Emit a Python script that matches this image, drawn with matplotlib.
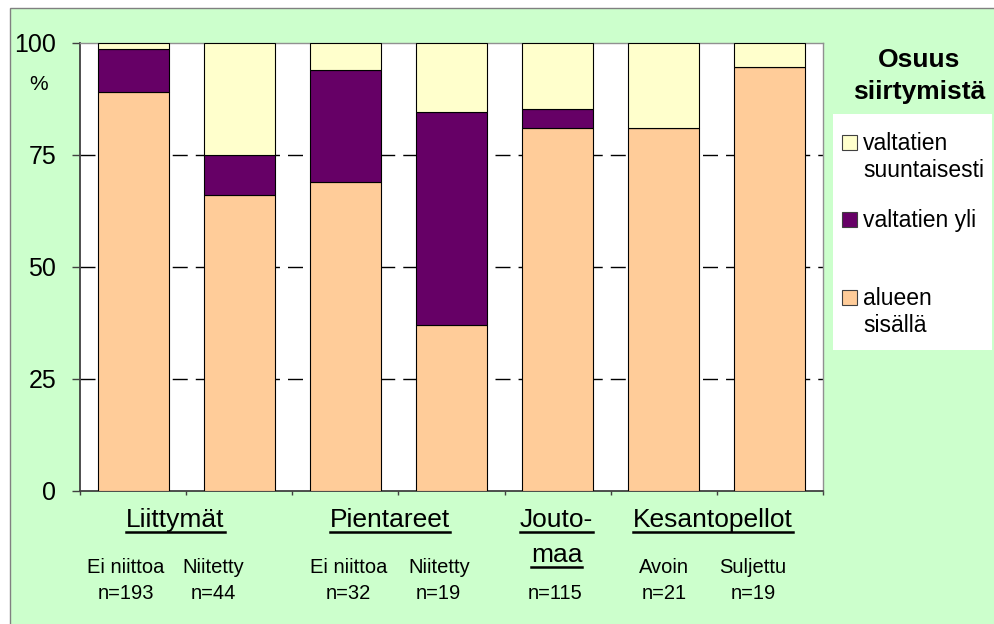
import matplotlib.pyplot as plt
from matplotlib.patches import Rectangle
from matplotlib.lines import Line2D
from matplotlib.transforms import blended_transform_factory

plt.rcParams['font.family'] = ['Liberation Sans', 'DejaVu Sans']

# shares of movements (%), one bar per site type
alueen_sisalla = [89.0, 66.0, 69.0, 37.0, 81.0, 81.0, 94.7]
valtatien_yli = [9.7, 9.0, 25.0, 47.5, 4.3, 0.0, 0.0]
valtatien_suuntaisesti = [1.3, 25.0, 6.0, 15.5, 14.7, 19.0, 5.3]

series_names = ['valtatien\nsuuntaisesti', 'valtatien yli', 'alueen\nsisällä']
colors = ['#FFFFCC', '#660066', '#FFCC99']

group_labels = ['Liittymät', 'Pientareet', 'Jouto-\nmaa', 'Kesantopellot']
group_x = [0.40, 2.42, 3.99, 5.46]
sub_labels = ['Ei niittoa', 'Niitetty', 'Ei niittoa', 'Niitetty', '', 'Avoin', 'Suljettu']
n_labels = ['n=193', 'n=44', 'n=32', 'n=19', 'n=115', 'n=21', 'n=19']
sub_x = [-0.07, 0.76, 2.03, 2.88, 3.98, 5.0, 5.84]

W, H = 994, 624
fig = plt.figure(figsize=(W / 100, H / 100), dpi=100)
fig.patch.set_facecolor('white')

def fy(py):
    return 1 - py / H

def fx(px):
    return px / W

# green backdrop with grey frame
fig.patches.append(Rectangle((fx(10), -0.02), 1.1, fy(8) + 0.02, transform=fig.transFigure,
                             facecolor='#CCFFCC', edgecolor='#808080', linewidth=1, zorder=-5))

ax = fig.add_axes([fx(80), fy(491), (823 - 80) / W, (491 - 43) / H])
ax.set_zorder(1)
ax.set_facecolor('white')

x = list(range(len(alueen_sisalla)))
bottom2 = alueen_sisalla
bottom3 = [a + b for a, b in zip(alueen_sisalla, valtatien_yli)]
kw = dict(width=0.67, edgecolor='black', linewidth=0.8, zorder=3)
ax.bar(x, alueen_sisalla, color=colors[2], **kw)
ax.bar(x, valtatien_yli, bottom=bottom2, color=colors[1], **kw)
ax.bar(x, valtatien_suuntaisesti, bottom=bottom3, color=colors[0], **kw)

for yv in [25, 50, 75]:
    ax.axhline(yv, color='black', linewidth=1.0, dashes=(10.8, 5.8), zorder=1)

ax.set_xlim(-0.5, 6.5)
ax.set_ylim(0, 100)
ax.set_yticks([0, 25, 50, 75, 100])
ax.tick_params(axis='y', length=6, width=1, color='#404040', pad=11, labelsize=18)
ax.set_xticks([i - 0.5 for i in range(8)])
ax.set_xticklabels([])
ax.tick_params(axis='x', length=3, width=1, color='#404040')
for s in ['left', 'bottom']:
    ax.spines[s].set_color('#404040')
    ax.spines[s].set_linewidth(1.3)
for s in ['top', 'right']:
    ax.spines[s].set_color('#909090')
    ax.spines[s].set_linewidth(1)

fig.text(fx(39), fy(90), '%', fontsize=15, ha='center', va='baseline')

# category labels under the axis
tr = blended_transform_factory(ax.transData, fig.transFigure)
underlined = []
for gx, lab in zip(group_x, group_labels):
    for k, line in enumerate(lab.split('\n')):
        base = 527 + 35 * k
        t = fig.text(gx, fy(base), line, transform=tr, fontsize=19, ha='center', va='baseline')
        underlined.append((t, base))

for sx, s, n in zip(sub_x, sub_labels, n_labels):
    if s:
        fig.text(sx, fy(573), s, transform=tr, fontsize=14.5, ha='center', va='baseline')
    fig.text(sx, fy(599), n, transform=tr, fontsize=14.5, ha='center', va='baseline')

# legend box and title
fig.patches.append(Rectangle((fx(833), fy(350)), (992 - 833) / W, (350 - 114) / H,
                             transform=fig.transFigure, facecolor='white', edgecolor='none', zorder=-1))
fig.text(fx(919), fy(67), 'Osuus', fontsize=19, fontweight='bold', ha='center', va='baseline')
fig.text(fx(919), fy(99), 'siirtymistä', fontsize=19, fontweight='bold', ha='center', va='baseline')

for name, col, base in zip(series_names, colors, [150, 227, 305]):
    fig.patches.append(Rectangle((fx(842), fy(base)), 15 / W, 15 / H, transform=fig.transFigure,
                                 facecolor=col, edgecolor='#404040', linewidth=0.8, zorder=2))
    for k, line in enumerate(name.split('\n')):
        fig.text(fx(863), fy(base + 27 * k), line, fontsize=16.5, ha='left', va='baseline')

# underline the category headings
fig.canvas.draw()
renderer = fig.canvas.get_renderer()
for t, base in underlined:
    bb = t.get_window_extent(renderer)
    uy = fy(base + 5)
    fig.lines.append(Line2D([bb.x0 / W, bb.x1 / W], [uy, uy], transform=fig.transFigure,
                            color='black', linewidth=1.8))

fig.savefig('out.png', dpi=100)
